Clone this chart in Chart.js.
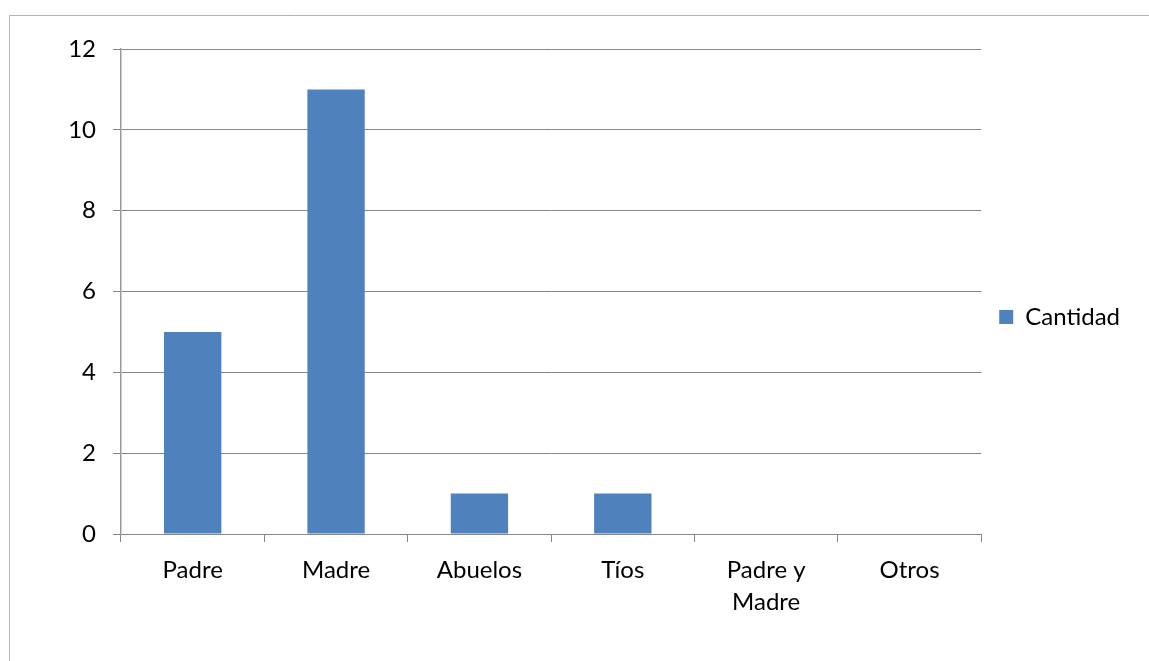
<!DOCTYPE html>
<html>
<head>
<meta charset="utf-8">
<script src="https://cdn.jsdelivr.net/npm/chart.js@4"></script>
<style>
  html, body { margin: 0; padding: 0; background: #fff; }
  #wrap { width: 1149px; height: 661px; position: relative; }
</style>
</head>
<body>
<div id="wrap"><canvas id="c" width="1149" height="661"></canvas></div>
<script>
const categories = ["Padre", "Madre", "Abuelos", "Tíos", ["Padre y", "Madre"], "Otros"];
const seriesName = "Cantidad";
const values = [5, 11, 1, 1, 0, 0];
const yTicks = [0, 2, 4, 6, 8, 10, 12];

const FONT = "Lato, 'Open Sans', sans-serif";
const GRID = "#868686";

const frame = {
  id: "frame",
  beforeDraw(chart) {
    const ctx = chart.ctx;
    ctx.save();
    ctx.strokeStyle = "#b3b3b3";
    ctx.lineWidth = 1;
    ctx.beginPath();
    ctx.moveTo(9.5, 700);
    ctx.lineTo(9.5, 15.5);
    ctx.lineTo(1200, 15.5);
    ctx.stroke();
    ctx.restore();
  }
};

new Chart(document.getElementById("c"), {
  type: "bar",
  data: {
    labels: categories,
    datasets: [{
      label: seriesName,
      data: values,
      backgroundColor: "#4F81BD",
      borderWidth: 0,
      categoryPercentage: 1.0,
      barPercentage: 0.4
    }]
  },
  options: {
    responsive: false,
    animation: false,
    devicePixelRatio: 1,
    layout: { padding: { top: 49, left: 0, right: 19, bottom: 0 } },
    plugins: {
      tooltip: { enabled: false },
      legend: {
        position: "right",
        fullSize: false,
        title: { display: true, text: " ", font: { size: 10, lineHeight: 1.2 }, padding: { top: 0, bottom: 39 } },
        labels: {
          boxWidth: 14,
          boxHeight: 14,
          padding: 18,
          color: "#000",
          font: { family: FONT, size: 24 }
        }
      }
    },
    scales: {
      x: {
        grid: { display: true, drawOnChartArea: false, drawTicks: true, tickLength: 8, color: GRID, offset: true },
        border: { display: true, color: GRID, width: 1 },
        ticks: { color: "#000", padding: 12, maxRotation: 0, autoSkip: false, font: { family: FONT, size: 24, lineHeight: 1.33 } },
        afterFit(s) { s.height = 127; }
      },
      y: {
        min: 0, max: 12,
        afterBuildTicks(s) { s.ticks = yTicks.map(v => ({ value: v })); },
        grid: { color: GRID, tickLength: 8, drawTicks: true },
        border: { display: true, color: "#999", width: 1.5 },
        ticks: { color: "#000", padding: 17, font: { family: FONT, size: 24 } },
        afterFit(s) { s.width = 121; }
      }
    }
  },
  plugins: [frame]
});
</script>
</body>
</html>
